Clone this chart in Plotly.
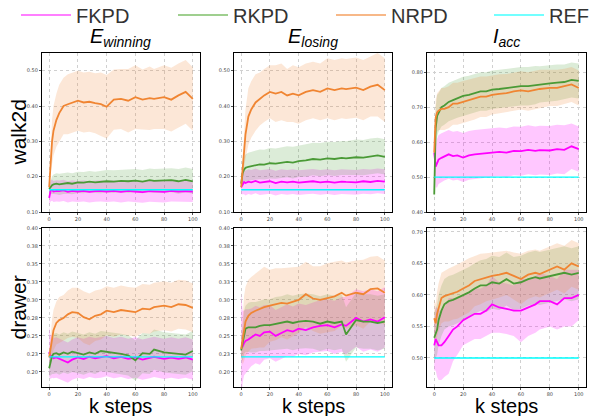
import plotly.graph_objects as go

# ---------------- data ----------------
steps = [0, 1, 2, 3, 5, 7, 10, 13, 16, 20, 24, 28, 32, 36, 40, 45, 50, 55, 60, 65, 70, 73, 80, 85, 90, 95, 100]
series_names = ["FKPD", "RKPD", "NRPD", "REF"]
row_labels = ["walk2d", "drawer"]
col_titles = ["<i>E</i><sub><i>winning</i></sub>", "<i>E</i><sub><i>losing</i></sub>", "<i>I</i><sub><i>acc</i></sub>"]
x_label = "k steps"
x_ticks = [0, 20, 40, 60, 80, 100]

# walk2d / E_winning
w_win_fkpd = [0.14, 0.16, 0.162, 0.158, 0.16, 0.159, 0.161, 0.157, 0.16, 0.158, 0.16, 0.157, 0.159, 0.16, 0.158, 0.16, 0.157, 0.16, 0.158, 0.156, 0.159, 0.158, 0.157, 0.16, 0.158, 0.159, 0.158]
w_win_fkpd_sd = [0.02, 0.03, 0.03, 0.03, 0.03, 0.03, 0.03, 0.03, 0.03, 0.03, 0.03, 0.03, 0.03, 0.03, 0.03, 0.03, 0.03, 0.03, 0.03, 0.03, 0.03, 0.03, 0.03, 0.03, 0.03, 0.03, 0.03]
w_win_rkpd = [0.165, 0.172, 0.176, 0.178, 0.18, 0.178, 0.181, 0.182, 0.18, 0.184, 0.183, 0.186, 0.184, 0.185, 0.187, 0.186, 0.188, 0.187, 0.189, 0.186, 0.19, 0.188, 0.189, 0.19, 0.187, 0.191, 0.187]
w_win_rkpd_sd = [0.01, 0.02, 0.025, 0.028, 0.03, 0.03, 0.03, 0.03, 0.03, 0.03, 0.03, 0.03, 0.03, 0.032, 0.032, 0.032, 0.032, 0.033, 0.033, 0.033, 0.033, 0.034, 0.034, 0.034, 0.035, 0.035, 0.035]
w_win_nrpd = [0.17, 0.25, 0.30, 0.33, 0.36, 0.38, 0.40, 0.405, 0.41, 0.415, 0.41, 0.412, 0.408, 0.405, 0.398, 0.418, 0.42, 0.415, 0.425, 0.418, 0.422, 0.42, 0.425, 0.418, 0.43, 0.44, 0.42]
w_win_nrpd_sd = [0.01, 0.04, 0.06, 0.07, 0.075, 0.08, 0.08, 0.085, 0.085, 0.085, 0.085, 0.085, 0.085, 0.09, 0.09, 0.085, 0.085, 0.09, 0.09, 0.085, 0.09, 0.085, 0.09, 0.09, 0.09, 0.09, 0.09]

# walk2d / E_losing
w_los_fkpd = [0.17, 0.18, 0.185, 0.182, 0.186, 0.184, 0.188, 0.183, 0.185, 0.187, 0.182, 0.186, 0.184, 0.186, 0.183, 0.185, 0.187, 0.184, 0.186, 0.183, 0.186, 0.185, 0.184, 0.187, 0.185, 0.188, 0.186]
w_los_fkpd_sd = [0.02, 0.03, 0.035, 0.035, 0.035, 0.035, 0.035, 0.035, 0.035, 0.035, 0.035, 0.035, 0.035, 0.035, 0.035, 0.035, 0.035, 0.035, 0.035, 0.035, 0.035, 0.035, 0.035, 0.035, 0.035, 0.035, 0.035]
w_los_rkpd = [0.18, 0.21, 0.22, 0.225, 0.228, 0.23, 0.232, 0.235, 0.234, 0.238, 0.237, 0.24, 0.242, 0.24, 0.244, 0.246, 0.25, 0.248, 0.252, 0.25, 0.253, 0.252, 0.255, 0.254, 0.258, 0.26, 0.256]
w_los_rkpd_sd = [0.01, 0.03, 0.035, 0.038, 0.04, 0.04, 0.04, 0.042, 0.042, 0.043, 0.043, 0.044, 0.044, 0.045, 0.045, 0.046, 0.046, 0.047, 0.047, 0.048, 0.048, 0.048, 0.05, 0.05, 0.05, 0.05, 0.05]
w_los_nrpd = [0.17, 0.22, 0.285, 0.32, 0.37, 0.39, 0.41, 0.42, 0.43, 0.44, 0.435, 0.44, 0.43, 0.435, 0.43, 0.44, 0.445, 0.44, 0.45, 0.445, 0.45, 0.448, 0.452, 0.445, 0.455, 0.46, 0.445]
w_los_nrpd_sd = [0.01, 0.04, 0.06, 0.07, 0.08, 0.08, 0.08, 0.075, 0.075, 0.075, 0.08, 0.08, 0.075, 0.08, 0.08, 0.08, 0.08, 0.08, 0.085, 0.085, 0.085, 0.085, 0.085, 0.085, 0.085, 0.09, 0.09]

# walk2d / I_acc
w_acc_fkpd = [0.57, 0.53, 0.54, 0.55, 0.555, 0.56, 0.565, 0.56, 0.562, 0.556, 0.562, 0.565, 0.566, 0.568, 0.57, 0.572, 0.57, 0.575, 0.574, 0.578, 0.575, 0.577, 0.576, 0.58, 0.578, 0.588, 0.58]
w_acc_fkpd_sd = [0.02, 0.06, 0.07, 0.07, 0.07, 0.07, 0.07, 0.07, 0.07, 0.07, 0.07, 0.07, 0.07, 0.07, 0.07, 0.07, 0.07, 0.07, 0.07, 0.07, 0.07, 0.07, 0.07, 0.07, 0.07, 0.065, 0.065]
w_acc_rkpd = [0.45, 0.64, 0.675, 0.685, 0.70, 0.705, 0.715, 0.72, 0.725, 0.732, 0.735, 0.74, 0.745, 0.745, 0.75, 0.752, 0.755, 0.758, 0.76, 0.76, 0.763, 0.765, 0.768, 0.77, 0.772, 0.778, 0.775]
w_acc_rkpd_sd = [0.03, 0.06, 0.06, 0.055, 0.055, 0.055, 0.055, 0.055, 0.055, 0.055, 0.055, 0.055, 0.055, 0.055, 0.055, 0.055, 0.055, 0.055, 0.055, 0.055, 0.055, 0.052, 0.052, 0.052, 0.05, 0.05, 0.05]
w_acc_nrpd = [0.57, 0.67, 0.685, 0.69, 0.695, 0.695, 0.70, 0.71, 0.71, 0.715, 0.72, 0.725, 0.73, 0.73, 0.735, 0.738, 0.74, 0.745, 0.748, 0.745, 0.75, 0.752, 0.755, 0.755, 0.76, 0.765, 0.755]
w_acc_nrpd_sd = [0.02, 0.05, 0.055, 0.055, 0.06, 0.06, 0.06, 0.06, 0.06, 0.06, 0.06, 0.06, 0.058, 0.058, 0.056, 0.056, 0.055, 0.055, 0.055, 0.055, 0.055, 0.055, 0.052, 0.052, 0.05, 0.05, 0.05]

# drawer / E_winning
d_win_fkpd = [0.228, 0.22, 0.222, 0.219, 0.22, 0.218, 0.216, 0.213, 0.217, 0.22, 0.218, 0.221, 0.219, 0.22, 0.222, 0.219, 0.221, 0.218, 0.22, 0.217, 0.219, 0.221, 0.218, 0.22, 0.218, 0.22, 0.217]
d_win_fkpd_sd = [0.035, 0.03, 0.03, 0.028, 0.028, 0.028, 0.028, 0.028, 0.028, 0.028, 0.028, 0.028, 0.028, 0.028, 0.028, 0.028, 0.028, 0.028, 0.028, 0.028, 0.028, 0.028, 0.028, 0.028, 0.028, 0.028, 0.028]
d_win_rkpd = [0.205, 0.215, 0.222, 0.225, 0.226, 0.224, 0.227, 0.225, 0.228, 0.226, 0.224, 0.227, 0.225, 0.229, 0.228, 0.226, 0.225, 0.223, 0.216, 0.226, 0.225, 0.231, 0.227, 0.226, 0.225, 0.224, 0.229]
d_win_rkpd_sd = [0.01, 0.02, 0.025, 0.028, 0.028, 0.028, 0.028, 0.028, 0.028, 0.028, 0.028, 0.028, 0.028, 0.028, 0.028, 0.028, 0.028, 0.028, 0.028, 0.028, 0.028, 0.028, 0.028, 0.028, 0.028, 0.028, 0.028]
d_win_nrpd = [0.22, 0.235, 0.248, 0.258, 0.268, 0.272, 0.275, 0.28, 0.283, 0.282, 0.276, 0.273, 0.278, 0.28, 0.285, 0.283, 0.286, 0.284, 0.283, 0.288, 0.287, 0.29, 0.292, 0.29, 0.294, 0.293, 0.289]
d_win_nrpd_sd = [0.005, 0.02, 0.025, 0.028, 0.03, 0.032, 0.032, 0.033, 0.034, 0.035, 0.036, 0.036, 0.035, 0.035, 0.034, 0.034, 0.034, 0.034, 0.034, 0.034, 0.034, 0.034, 0.034, 0.034, 0.034, 0.034, 0.034]

# drawer / E_losing
d_los_fkpd = [0.235, 0.235, 0.24, 0.243, 0.245, 0.248, 0.252, 0.25, 0.255, 0.256, 0.25, 0.254, 0.258, 0.256, 0.26, 0.258, 0.262, 0.264, 0.265, 0.262, 0.266, 0.264, 0.275, 0.27, 0.273, 0.27, 0.276]
d_los_fkpd_sd = [0.075, 0.05, 0.045, 0.044, 0.042, 0.04, 0.04, 0.04, 0.038, 0.037, 0.036, 0.036, 0.036, 0.035, 0.035, 0.035, 0.035, 0.036, 0.036, 0.037, 0.038, 0.04, 0.04, 0.042, 0.042, 0.042, 0.042]
d_los_rkpd = [0.23, 0.24, 0.255, 0.26, 0.262, 0.262, 0.262, 0.264, 0.265, 0.265, 0.267, 0.268, 0.27, 0.268, 0.27, 0.271, 0.27, 0.267, 0.27, 0.268, 0.27, 0.252, 0.272, 0.27, 0.27, 0.268, 0.27]
d_los_rkpd_sd = [0.01, 0.025, 0.03, 0.032, 0.034, 0.035, 0.035, 0.035, 0.036, 0.036, 0.037, 0.037, 0.038, 0.038, 0.038, 0.038, 0.038, 0.038, 0.038, 0.038, 0.038, 0.038, 0.038, 0.038, 0.038, 0.038, 0.038]
d_los_nrpd = [0.232, 0.245, 0.26, 0.27, 0.278, 0.282, 0.285, 0.288, 0.29, 0.292, 0.294, 0.296, 0.295, 0.298, 0.30, 0.308, 0.302, 0.30, 0.303, 0.305, 0.31, 0.306, 0.31, 0.308, 0.315, 0.316, 0.31]
d_los_nrpd_sd = [0.01, 0.035, 0.045, 0.048, 0.05, 0.05, 0.052, 0.054, 0.056, 0.05, 0.05, 0.048, 0.05, 0.048, 0.046, 0.045, 0.045, 0.047, 0.048, 0.048, 0.045, 0.046, 0.045, 0.048, 0.045, 0.045, 0.045]

# drawer / I_acc
d_acc_fkpd = [0.52, 0.53, 0.525, 0.52, 0.52, 0.525, 0.535, 0.545, 0.55, 0.56, 0.565, 0.57, 0.57, 0.575, 0.585, 0.58, 0.578, 0.575, 0.575, 0.58, 0.585, 0.59, 0.59, 0.585, 0.595, 0.595, 0.60]
d_acc_fkpd_sd = [0.04, 0.05, 0.055, 0.055, 0.055, 0.055, 0.06, 0.05, 0.045, 0.04, 0.04, 0.04, 0.04, 0.04, 0.045, 0.04, 0.04, 0.04, 0.05, 0.045, 0.045, 0.045, 0.04, 0.04, 0.045, 0.045, 0.04]
d_acc_rkpd = [0.532, 0.54, 0.545, 0.56, 0.575, 0.585, 0.59, 0.592, 0.595, 0.60, 0.604, 0.61, 0.615, 0.615, 0.62, 0.618, 0.625, 0.618, 0.62, 0.625, 0.628, 0.626, 0.63, 0.632, 0.635, 0.632, 0.635]
d_acc_rkpd_sd = [0.04, 0.04, 0.04, 0.04, 0.04, 0.04, 0.04, 0.04, 0.04, 0.04, 0.04, 0.04, 0.04, 0.042, 0.042, 0.042, 0.042, 0.042, 0.042, 0.042, 0.042, 0.042, 0.042, 0.042, 0.042, 0.042, 0.042]
d_acc_nrpd = [0.563, 0.555, 0.57, 0.58, 0.595, 0.598, 0.60, 0.603, 0.605, 0.61, 0.615, 0.622, 0.625, 0.628, 0.63, 0.632, 0.635, 0.63, 0.625, 0.632, 0.635, 0.633, 0.64, 0.645, 0.64, 0.65, 0.645]
d_acc_nrpd_sd = [0.03, 0.03, 0.035, 0.038, 0.04, 0.04, 0.042, 0.042, 0.043, 0.043, 0.043, 0.04, 0.04, 0.038, 0.037, 0.036, 0.035, 0.037, 0.04, 0.038, 0.037, 0.037, 0.037, 0.037, 0.038, 0.037, 0.037]

# REF constant levels per panel
ref_levels = [[0.163, 0.163, 0.50], [0.221, 0.221, 0.50]]

# y ranges & ticks per panel
y_ranges = [[[0.10, 0.55], [0.10, 0.55], [0.40, 0.855]],
            [[0.179, 0.40], [0.179, 0.40], [0.454, 0.706]]]
y_tickvals = [[[0.10, 0.20, 0.30, 0.40, 0.50], [0.10, 0.20, 0.30, 0.40, 0.50], [0.40, 0.50, 0.60, 0.70, 0.80]],
              [[0.20, 0.225, 0.25, 0.275, 0.30, 0.325, 0.35, 0.375, 0.40]] * 2 + [[0.50, 0.55, 0.60, 0.65, 0.70]]]
y_ticktext = [[["0.10", "0.20", "0.30", "0.40", "0.50"], ["0.10", "0.20", "0.30", "0.40", "0.50"], ["0.40", "0.50", "0.60", "0.70", "0.80"]],
              [["0.20", "0.23", "0.25", "0.28", "0.30", "0.33", "0.35", "0.38", "0.40"]] * 2 + [["0.50", "0.55", "0.60", "0.65", "0.70"]]]

panels = [
    [(w_win_fkpd, w_win_fkpd_sd, w_win_rkpd, w_win_rkpd_sd, w_win_nrpd, w_win_nrpd_sd),
     (w_los_fkpd, w_los_fkpd_sd, w_los_rkpd, w_los_rkpd_sd, w_los_nrpd, w_los_nrpd_sd),
     (w_acc_fkpd, w_acc_fkpd_sd, w_acc_rkpd, w_acc_rkpd_sd, w_acc_nrpd, w_acc_nrpd_sd)],
    [(d_win_fkpd, d_win_fkpd_sd, d_win_rkpd, d_win_rkpd_sd, d_win_nrpd, d_win_nrpd_sd),
     (d_los_fkpd, d_los_fkpd_sd, d_los_rkpd, d_los_rkpd_sd, d_los_nrpd, d_los_nrpd_sd),
     (d_acc_fkpd, d_acc_fkpd_sd, d_acc_rkpd, d_acc_rkpd_sd, d_acc_nrpd, d_acc_nrpd_sd)],
]

# ---------------- style ----------------
W, H = 590, 416
line_colors = {"FKPD": "#ff00ff", "RKPD": "#4a9a36", "NRPD": "#f08532", "REF": "#00ffff"}
band_colors = {"FKPD": "rgba(255,0,255,0.22)", "RKPD": "rgba(80,160,60,0.2)", "NRPD": "rgba(242,135,55,0.2)"}
legend_colors = {"FKPD": "#ff55ff", "RKPD": "#7fbf6a", "NRPD": "#f5a060", "REF": "#44ffff"}
legend_line_px = [17, 174, 332, 490]

col_px = [(42, 200), (234, 392), (427, 586)]
row_px = [(53, 212), (228, 387)]

fig = go.Figure()
layout_axes = {}

for r in range(2):
    for c in range(3):
        idx = r * 3 + c + 1
        xa = "x" if idx == 1 else f"x{idx}"
        ya = "y" if idx == 1 else f"y{idx}"
        fk, fk_sd, rk, rk_sd, nr, nr_sd = panels[r][c]
        data = [("FKPD", fk, fk_sd), ("RKPD", rk, rk_sd), ("NRPD", nr, nr_sd)]
        for name, m, sd in data:
            hi = [a + b for a, b in zip(m, sd)]
            lo = [a - b for a, b in zip(m, sd)]
            fig.add_trace(go.Scatter(
                x=steps + steps[::-1], y=hi + lo[::-1], fill="toself",
                fillcolor=band_colors[name], line=dict(width=0), mode="lines",
                hoverinfo="skip", showlegend=False, xaxis=xa, yaxis=ya))
        for name, m, sd in data:
            fig.add_trace(go.Scatter(
                x=steps, y=m, mode="lines", line=dict(color=line_colors[name], width=1.8),
                name=name, showlegend=False, xaxis=xa, yaxis=ya))
        fig.add_trace(go.Scatter(
            x=[steps[0], steps[-1]], y=[ref_levels[r][c]] * 2, mode="lines",
            line=dict(color=line_colors["REF"], width=1.3), name="REF",
            showlegend=False, xaxis=xa, yaxis=ya))

        x0, x1 = col_px[c]
        y0, y1 = row_px[r]
        axis_common = dict(showline=True, linecolor="black", linewidth=1.3, mirror=True,
                           showgrid=True, gridcolor="#d0d0d0", griddash="dot", gridwidth=0.8,
                           zeroline=False, ticks="outside", ticklen=2, tickwidth=0.6, tickcolor="#555",
                           automargin=False,
                           tickfont=dict(size=5, color="#444", family="DejaVu Sans"))
        layout_axes["xaxis" if idx == 1 else f"xaxis{idx}"] = dict(
            domain=[x0 / W, x1 / W], anchor=ya, range=[-5, 105],
            tickvals=x_ticks, ticktext=[str(v) for v in x_ticks],
            **axis_common)
        layout_axes["yaxis" if idx == 1 else f"yaxis{idx}"] = dict(
            domain=[1 - y1 / H, 1 - y0 / H], anchor=xa, range=y_ranges[r][c],
            tickvals=y_tickvals[r][c], ticktext=y_ticktext[r][c],
            **axis_common)

legend_layouts = {}
for i, name in enumerate(series_names):
    lg = "legend" if i == 0 else f"legend{i + 1}"
    fig.add_trace(go.Scatter(x=[None], y=[None], mode="lines", name=name, legend=lg,
                             line=dict(color=legend_colors[name], width=1.5), showlegend=True))
    legend_layouts[lg] = dict(x=(legend_line_px[i] - 1) / W, y=1 - 15 / H, xanchor="left", yanchor="middle",
                              orientation="h", itemwidth=50,
                              font=dict(size=20, color="#333", family="Liberation Sans"),
                              bgcolor="rgba(0,0,0,0)")

annotations = []
for c in range(3):
    x0, x1 = col_px[c]
    annotations.append(dict(text=col_titles[c], x=(x0 + x1) / 2 / W, y=1 - 52 / H,
                            xref="paper", yref="paper", xanchor="center", yanchor="bottom",
                            showarrow=False, font=dict(size=20, color="black", family="Liberation Sans")))
    annotations.append(dict(text=x_label, x=(x0 + x1) / 2 / W, y=1 - 406 / H,
                            xref="paper", yref="paper", xanchor="center", yanchor="middle",
                            showarrow=False, font=dict(size=20, color="black", family="Liberation Sans")))
for r in range(2):
    y0, y1 = row_px[r]
    annotations.append(dict(text=row_labels[r], x=18 / W, y=1 - (y0 + y1) / 2 / H,
                            xref="paper", yref="paper", xanchor="center", yanchor="middle",
                            textangle=-90, showarrow=False,
                            font=dict(size=21, color="black", family="Liberation Sans")))

fig.update_layout(
    width=W, height=H, margin=dict(l=0, r=0, t=0, b=0, autoexpand=False),
    paper_bgcolor="white", plot_bgcolor="white",
    showlegend=True,
    annotations=annotations,
    **legend_layouts,
    **layout_axes,
)

fig.write_html("out.html", config={"displayModeBar": False},
               post_script="document.body.style.margin='0';document.body.style.overflow='hidden';")
